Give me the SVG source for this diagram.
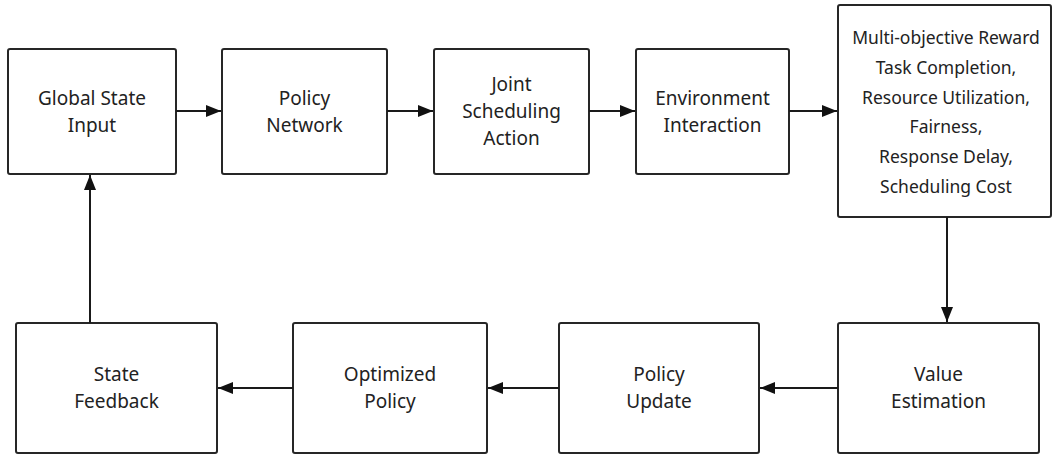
<svg xmlns="http://www.w3.org/2000/svg" width="1053" height="454" viewBox="0 0 1053 454">
  <style>
    .box { fill: #ffffff; stroke: #262626; stroke-width: 2; }
    .lbl { font-family: "Noto Sans", "Liberation Sans", sans-serif; font-size: 19px; fill: #222222; text-anchor: middle; }
    .rw { font-size: 17.5px; }
    .edge { stroke: #1a1a1a; stroke-width: 2; fill: none; marker-end: url(#arrow); }
  </style>
  <defs>
    <marker id="arrow" markerUnits="userSpaceOnUse" markerWidth="15" markerHeight="12" refX="15" refY="6" orient="auto">
      <path d="M0,0 L15,6 L0,12 Z" fill="#111111"/>
    </marker>
  </defs>
  <rect width="1053" height="454" fill="#ffffff"/>

  <!-- top row -->
  <g id="global-state-input">
    <rect class="box" x="8" y="49" width="168" height="125" rx="2"/>
    <text class="lbl" x="92" y="105">Global State</text>
    <text class="lbl" x="92" y="132">Input</text>
  </g>
  <g id="policy-network">
    <rect class="box" x="222" y="49" width="165" height="125" rx="2"/>
    <text class="lbl" x="304.5" y="105">Policy</text>
    <text class="lbl" x="304.5" y="132">Network</text>
  </g>
  <g id="joint-scheduling-action">
    <rect class="box" x="434" y="49" width="155" height="125" rx="2"/>
    <text class="lbl" x="511.5" y="91">Joint</text>
    <text class="lbl" x="511.5" y="118">Scheduling</text>
    <text class="lbl" x="511.5" y="145">Action</text>
  </g>
  <g id="environment-interaction">
    <rect class="box" x="636" y="49" width="153" height="125" rx="2"/>
    <text class="lbl" x="712.5" y="105">Environment</text>
    <text class="lbl" x="712.5" y="132">Interaction</text>
  </g>
  <g id="multi-objective-reward">
    <rect class="box" x="838" y="5" width="213" height="212" rx="2"/>
    <text class="lbl rw" x="946" y="44">Multi-objective Reward</text>
    <text class="lbl rw" x="946" y="74">Task Completion,</text>
    <text class="lbl rw" x="946" y="104">Resource Utilization,</text>
    <text class="lbl rw" x="946" y="133">Fairness,</text>
    <text class="lbl rw" x="946" y="163">Response Delay,</text>
    <text class="lbl rw" x="946" y="193">Scheduling Cost</text>
  </g>

  <!-- bottom row -->
  <g id="state-feedback">
    <rect class="box" x="16" y="323" width="201" height="130" rx="2"/>
    <text class="lbl" x="116.5" y="381">State</text>
    <text class="lbl" x="116.5" y="408">Feedback</text>
  </g>
  <g id="optimized-policy">
    <rect class="box" x="293" y="323" width="194" height="130" rx="2"/>
    <text class="lbl" x="390" y="381">Optimized</text>
    <text class="lbl" x="390" y="408">Policy</text>
  </g>
  <g id="policy-update">
    <rect class="box" x="559" y="323" width="200" height="130" rx="2"/>
    <text class="lbl" x="659" y="381">Policy</text>
    <text class="lbl" x="659" y="408">Update</text>
  </g>
  <g id="value-estimation">
    <rect class="box" x="838" y="323" width="201" height="130" rx="2"/>
    <text class="lbl" x="938.5" y="381">Value</text>
    <text class="lbl" x="938.5" y="408">Estimation</text>
  </g>

  <!-- connectors -->
  <g id="connectors">
    <line class="edge" x1="176" y1="111" x2="221" y2="111"/>
    <line class="edge" x1="387" y1="111" x2="433" y2="111"/>
    <line class="edge" x1="589" y1="111" x2="635" y2="111"/>
    <line class="edge" x1="789" y1="111" x2="837" y2="111"/>
    <line class="edge" x1="947" y1="217" x2="947" y2="322"/>
    <line class="edge" x1="838" y1="388" x2="760" y2="388"/>
    <line class="edge" x1="559" y1="388" x2="488" y2="388"/>
    <line class="edge" x1="293" y1="388" x2="218" y2="388"/>
    <line class="edge" x1="90" y1="323" x2="90" y2="175"/>
  </g>
</svg>
